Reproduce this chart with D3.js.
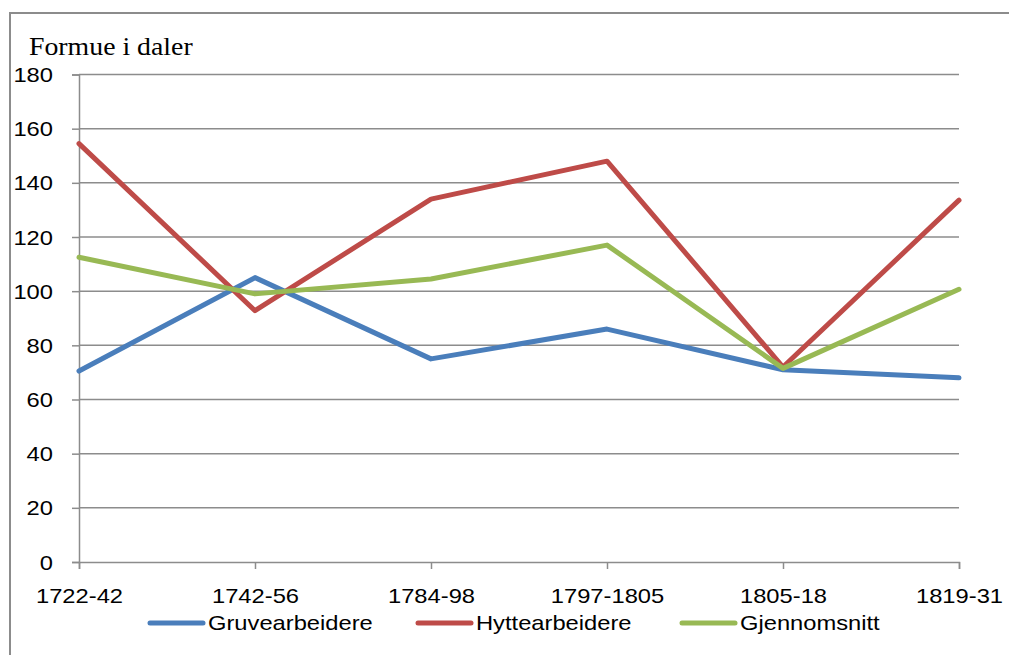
<!DOCTYPE html>
<html><head><meta charset="utf-8">
<script src="https://cdn.jsdelivr.net/npm/d3@7"></script>
<style>body{margin:0;background:#fff}svg{display:block}</style>
</head><body>
<svg id="c" width="1009" height="655"></svg>
<script>
const categories = ["1722-42","1742-56","1784-98","1797-1805","1805-18","1819-31"];
const gruvearbeidere = [70.5, 105, 75, 86, 71, 68];
const hyttearbeidere = [154.5, 92.8, 134, 148, 72, 133.6];
const gjennomsnitt = [112.5, 99, 104.5, 117, 71.5, 100.7];
const seriesNames = ["Gruvearbeidere","Hyttearbeidere","Gjennomsnitt"];
const seriesColors = ["#4a7ebb","#be4b48","#98b954"];
const yTicks = [0,20,40,60,80,100,120,140,160,180];
const yTitle = "Formue i daler";

const series = [gruvearbeidere, hyttearbeidere, gjennomsnitt];
const svg = d3.select("#c");
const gray = "#8c8c8c";
const sx = 1.13;
const fs = "21px";

svg.append("rect").attr("x",10).attr("y",13).attr("width",1010).attr("height",660)
  .attr("fill","none").attr("stroke",gray).attr("stroke-width",2);

const x = d3.scalePoint().domain(categories).range([79,959]).padding(0);
const y = d3.scaleLinear().domain([0,180]).range([562,74.5]);

// gridlines
svg.append("g").selectAll("line").data(yTicks.filter(d=>d>0)).join("line")
  .attr("x1",79).attr("x2",959).attr("y1",d=>y(d)).attr("y2",d=>y(d))
  .attr("stroke",gray).attr("stroke-width",1.5);

// y axis
const ya = svg.append("g").attr("transform","translate(79,0)")
  .call(d3.axisLeft(y).tickValues(yTicks).tickSize(7).tickPadding(0).tickFormat(d3.format("d")));
ya.select(".domain").attr("stroke",gray).attr("stroke-width",1.5);
ya.selectAll(".tick line").attr("stroke",gray).attr("stroke-width",1.5);
ya.selectAll(".tick text").attr("x",null).attr("dy",null).attr("text-anchor","end")
  .attr("dominant-baseline","central")
  .attr("transform","translate(-26,0) scale("+sx+",1)")
  .style("font-family","'Liberation Sans', Arial, sans-serif").style("font-size",fs).attr("fill","#000");

// x axis
const xa = svg.append("g").attr("transform","translate(0,562)")
  .call(d3.axisBottom(x).tickSize(7).tickPadding(0));
xa.select(".domain").attr("stroke",gray).attr("stroke-width",1.5);
xa.selectAll(".tick line").attr("stroke",gray).attr("stroke-width",1.5);
xa.selectAll(".tick text").attr("y",null).attr("dy",null).attr("text-anchor","middle")
  .attr("transform","translate(0,41) scale("+sx+",1)")
  .style("font-family","'Liberation Sans', Arial, sans-serif").style("font-size",fs).attr("fill","#000");

// title
svg.append("text").attr("x",29).attr("y",55).text(yTitle)
  .attr("transform","translate(29,0) scale(1.07,1) translate(-29,0)")
  .style("font-family","'Liberation Serif','Times New Roman',serif").style("font-size","26px").attr("fill","#000");

// lines
const line = d3.line().x((d,i)=>x(categories[i])).y(d=>y(d));
series.forEach((s,k)=>{
  svg.append("path").datum(s).attr("d",line).attr("fill","none")
    .attr("stroke",seriesColors[k]).attr("stroke-width",5)
    .attr("stroke-linejoin","round").attr("stroke-linecap","round");
});

// legend
const legX = [150,418,682];
seriesNames.forEach((n,k)=>{
  svg.append("line").attr("x1",legX[k]).attr("x2",legX[k]+53).attr("y1",623).attr("y2",623)
    .attr("stroke",seriesColors[k]).attr("stroke-width",5).attr("stroke-linecap","round");
  svg.append("text").text(n)
    .attr("transform","translate("+(legX[k]+58)+",630) scale("+sx+",1)")
    .style("font-family","'Liberation Sans', Arial, sans-serif").style("font-size",fs).attr("fill","#000");
});
</script>
</body></html>
